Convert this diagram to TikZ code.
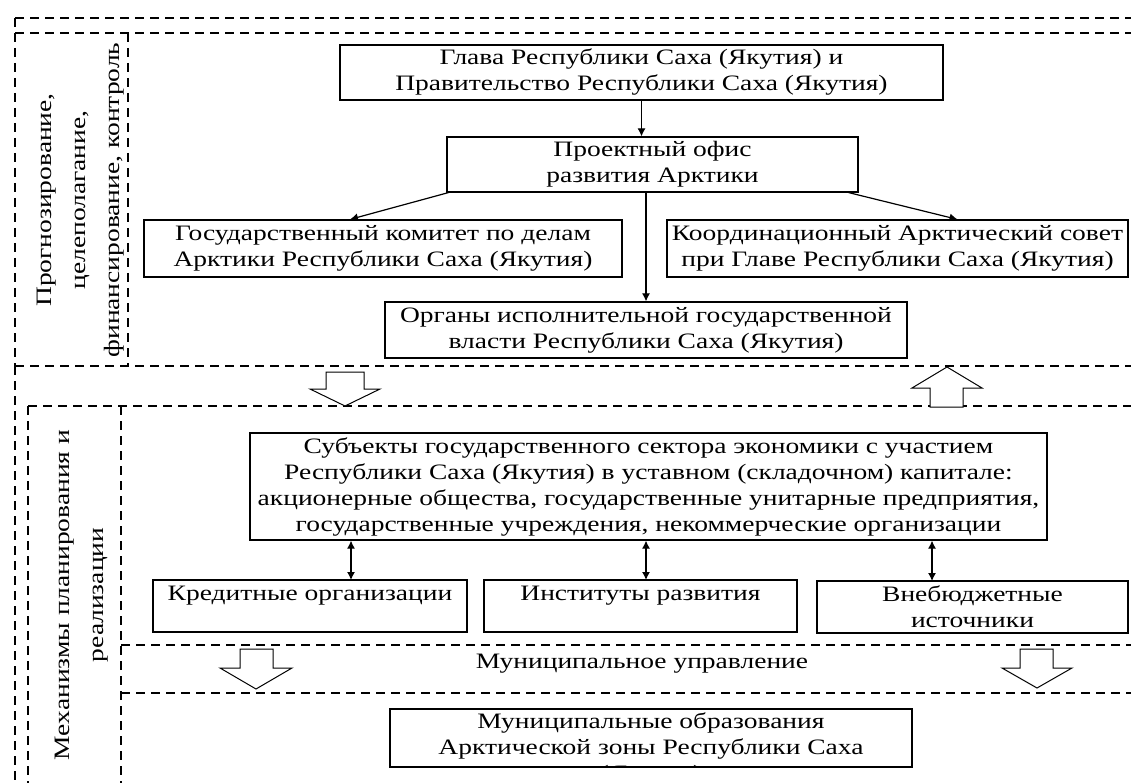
\documentclass[tikz,border=0pt]{standalone}
\usepackage{fontspec}
\setmainfont{Liberation Serif}[FakeStretch=1.25]
\usetikzlibrary{arrows.meta}

\begin{document}
\begin{tikzpicture}[x=1pt, y=-1pt,
    box/.style={draw, line width=1.2pt, align=center, inner sep=0pt, font=\fontsize{22}{26}\selectfont},
    txt/.style={align=center, inner sep=0pt, font=\fontsize{22}{26}\selectfont},
    sect/.style={line width=1.4pt, dash pattern=on 9pt off 6pt},
    lab/.style={rotate=90, align=center, inner sep=0pt, font=\fontsize{22}{34}\selectfont},
    link/.style={line width=1.2pt, -{Latex[length=8pt, width=8pt]}},
    both/.style={line width=1.2pt, {Latex[length=8pt, width=8pt]}-{Latex[length=8pt, width=8pt]}},
    blk/.style={draw, fill=white, line width=1pt}]
\useasboundingbox (0,0) rectangle (1131,783);

\draw[sect] (15,18) -- (1131,18);
\draw[sect] (15,33) -- (1131,33);
\draw[sect, line width=2.4pt] (15,18) -- (15,366);
\draw[sect] (15,366) -- (15,783);
\draw[sect] (128,33) -- (128,366);
\draw[sect] (15,366) -- (1131,366);
\draw[sect] (28,406) -- (1131,406);
\draw[sect] (28,406) -- (28,783);
\draw[sect] (121,406) -- (121,783);
\draw[sect] (121,645) -- (1131,645);
\draw[sect] (121,693) -- (1131,693);

\node[lab] (plan) at (81,200) {Прогнозирование,\\целеполагание,\\финансирование, контроль};
\node[lab] (mech) at (82,595) {Механизмы планирования и\\реализации};

\node[box, minimum width=603, minimum height=55] (glava) at (641.5,72.5) {Глава Республики Саха (Якутия) и\\Правительство Республики Саха (Якутия)};
\node[box, minimum width=411, minimum height=55] (office) at (652.5,164.5) {Проектный офис\\развития Арктики};
\node[box, minimum width=478, minimum height=57] (committee) at (383,248.5) {Государственный комитет по делам\\Арктики Республики Саха (Якутия)};
\node[box, minimum width=461, minimum height=57] (council) at (897.5,248.5) {Координационный Арктический совет\\при Главе Республики Саха (Якутия)};
\node[box, minimum width=522, minimum height=56] (organs) at (646,330) {Органы исполнительной государственной\\власти Республики Саха (Якутия)};

\draw[link] (glava.south) -- (glava.south |- office.north);
\draw[link] ([xshift=2pt]office.south west) -- ([xshift=-33pt]committee.north);
\draw[link] ([xshift=-10pt]office.south east) -- ([xshift=60pt]council.north);
\draw[link] (organs.north |- office.south) -- (organs.north);

\draw[blk] (326,372) -- (364,372) -- (364,389) -- (380,389) -- (345,406) -- (310,389) -- (326,389) -- cycle;
\draw[blk] (930,407) -- (930,388) -- (912,388) -- (947,367) -- (982,388) -- (963,388) -- (963,407) -- cycle;

\node[box, minimum width=797, minimum height=107] (subj) at (648.5,486.5) {Субъекты государственного сектора экономики с участием\\Республики Саха (Якутия) в уставном (складочном) капитале:\\акционерные общества, государственные унитарные предприятия,\\государственные учреждения, некоммерческие организации};

\node[box, minimum width=314, minimum height=52] (credit) at (310,606) {Кредитные организации\\\mbox{}};
\node[box, minimum width=313, minimum height=52] (inst) at (640.5,606) {Институты развития\\\mbox{}};
\node[box, minimum width=311, minimum height=52] (extra) at (972.5,607) {Внебюджетные\\источники};

\draw[both] (subj.south -| 351,0) -- (351,580);
\draw[both] (subj.south -| 646,0) -- (646,580);
\draw[both] (subj.south -| 932,0) -- (932,581);

\node[txt] (munctl) at (642,664) {Муниципальное управление};
\draw[blk] (240,649) -- (273,649) -- (273,668) -- (292,668) -- (256,689) -- (220,668) -- (240,668) -- cycle;
\draw[blk] (1020,649) -- (1053,649) -- (1053,668) -- (1072,668) -- (1037,688) -- (1002,668) -- (1020,668) -- cycle;

\node[draw, line width=1.2pt, minimum width=522, minimum height=58, inner sep=0pt] (mun) at (651,738) {};
\begin{scope}
\clip (mun.north west) rectangle (mun.south east);
\node[txt, anchor=north] (muntext) at ([yshift=-4pt]mun.north) {Муниципальные образования\\Арктической зоны Республики Саха\\(Якутия)};
\end{scope}
\end{tikzpicture}
\end{document}
